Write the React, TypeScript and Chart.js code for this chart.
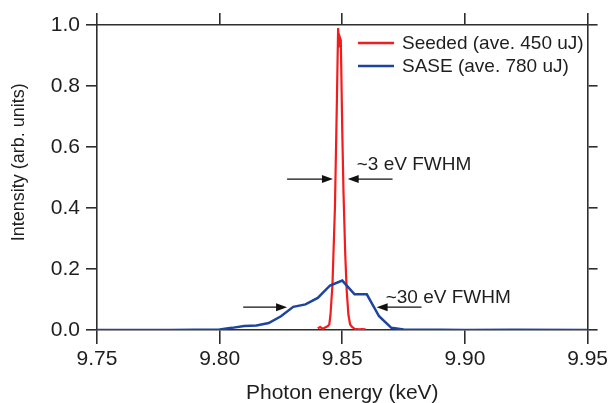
import React, { useEffect, useRef } from "react";
import { Chart, registerables } from "chart.js";

Chart.register(...registerables);

// Seeded spectrum (keV, normalized intensity)
const seededEnergy = [
  9.84, 9.841, 9.842, 9.843, 9.844, 9.8447, 9.8452, 9.846, 9.847, 9.8478, 9.8483,
  9.8487, 9.849, 9.8494, 9.85, 9.8505, 9.8512, 9.8518, 9.8525, 9.8532, 9.854,
  9.855, 9.856, 9.857, 9.858, 9.8595,
];
const seededIntensity = [
  0.006, 0.01, 0.004, 0.008, 0.012, 0.018, 0.05, 0.15, 0.4, 0.75, 0.99,
  0.93, 0.96, 0.95, 0.65, 0.45, 0.25, 0.13, 0.05, 0.018, 0.01,
  0.004, 0.003, 0.002, 0.003, 0.002,
];

// SASE spectrum
const saseEnergy = [
  9.75, 9.76, 9.77, 9.78, 9.79, 9.795, 9.8, 9.805, 9.81, 9.815, 9.82, 9.825,
  9.83, 9.835, 9.84, 9.845, 9.85, 9.855, 9.86, 9.865, 9.87, 9.875, 9.88, 9.89,
  9.9, 9.92, 9.95,
];
const saseIntensity = [
  0, 0, 0, 0, 0.001, 0.001, 0.002, 0.007, 0.013, 0.015, 0.023, 0.045,
  0.076, 0.084, 0.105, 0.146, 0.162, 0.117, 0.117, 0.045, 0.007, 0.002, 0.001, 0.001,
  0, 0.001, 0,
];

const seriesLabels = ["Seeded (ave. 450 uJ)", "SASE (ave. 780 uJ)"];
const seriesColors = ["#f21c1c", "#1c44a0"];

const xTitle = "Photon energy (keV)";
const yTitle = "Intensity (arb. units)";

// Annotations in data coordinates: [fromX, toX, y]
const arrows = [
  [9.8275, 9.8462, 0.495],
  [9.8705, 9.8522, 0.495],
  [9.8096, 9.8275, 0.075],
  [9.8823, 9.864, 0.075],
];
const notes = [
  { text: "~3 eV FWHM", x: 9.8559, y: 0.541 },
  { text: "~30 eV FWHM", x: 9.8677, y: 0.105 },
];

const FONT = '"Liberation Sans", Arial, Helvetica, sans-serif';
const AXIS = "#2e2e2e";
const TEXT = "#1e1e1e";

const overlay = {
  id: "overlay",
  afterDraw(chart: any) {
    const { ctx, chartArea, scales } = chart;
    const xs = scales.x;
    const ys = scales.y;
    ctx.save();
    // axis titles
    ctx.fillStyle = TEXT;
    ctx.font = `21px ${FONT}`;
    ctx.textAlign = "center";
    ctx.textBaseline = "middle";
    ctx.fillText(xTitle, (chartArea.left + chartArea.right) / 2, 393);
    ctx.save();
    ctx.font = `18px ${FONT}`;
    ctx.translate(19, chartArea.top + (chartArea.bottom - chartArea.top) * 0.45);
    ctx.rotate(-Math.PI / 2);
    ctx.fillText(yTitle, 0, 0);
    ctx.restore();

    // legend
    ctx.font = `19px ${FONT}`;
    ctx.textAlign = "left";
    chart.data.datasets.forEach((ds: any, i: number) => {
      const y = 43 + i * 23;
      ctx.strokeStyle = ds.borderColor;
      ctx.lineWidth = 2.5;
      ctx.beginPath();
      ctx.moveTo(358, y);
      ctx.lineTo(394, y);
      ctx.stroke();
      ctx.fillStyle = TEXT;
      ctx.fillText(ds.label, 402, y + 1);
    });

    // arrows
    ctx.strokeStyle = "#111";
    ctx.fillStyle = "#111";
    ctx.lineWidth = 1.3;
    arrows.forEach(([x0, x1, yv]) => {
      const px0 = xs.getPixelForValue(x0);
      const px1 = xs.getPixelForValue(x1);
      const py = ys.getPixelForValue(yv);
      const dir = Math.sign(px1 - px0);
      ctx.beginPath();
      ctx.moveTo(px0, py);
      ctx.lineTo(px1 - dir * 6, py);
      ctx.stroke();
      ctx.beginPath();
      ctx.moveTo(px1, py);
      ctx.lineTo(px1 - dir * 11, py - 4);
      ctx.lineTo(px1 - dir * 11, py + 4);
      ctx.closePath();
      ctx.fill();
    });

    // notes
    ctx.fillStyle = TEXT;
    ctx.font = `19px ${FONT}`;
    ctx.textAlign = "left";
    ctx.textBaseline = "middle";
    notes.forEach((n) => {
      ctx.fillText(n.text, xs.getPixelForValue(n.x), ys.getPixelForValue(n.y));
    });
    ctx.restore();
  },
};

export default function App() {
  const ref = useRef<HTMLCanvasElement | null>(null);

  useEffect(() => {
    if (!ref.current) return;
    const gridBase = {
      drawOnChartArea: false,
      drawTicks: true,
      color: AXIS,
      lineWidth: 1.6,
    };
    const chart = new Chart(ref.current, {
      type: "line",
      data: {
        datasets: [
          {
            label: seriesLabels[0],
            data: seededEnergy.map((x, i) => ({ x, y: seededIntensity[i] })),
            borderColor: seriesColors[0],
            backgroundColor: seriesColors[0],
            borderWidth: 2.2,
            pointRadius: 0,
            tension: 0,
            order: 2,
          },
          {
            label: seriesLabels[1],
            data: saseEnergy.map((x, i) => ({ x, y: saseIntensity[i] })),
            borderColor: seriesColors[1],
            backgroundColor: seriesColors[1],
            borderWidth: 2.5,
            pointRadius: 0,
            tension: 0,
            order: 1,
          },
        ],
      },
      options: {
        animation: false,
        responsive: true,
        maintainAspectRatio: false,
        layout: { padding: 0 },
        plugins: {
          legend: { display: false },
          tooltip: { enabled: false },
        },
        scales: {
          x: {
            type: "linear",
            position: "bottom",
            min: 9.75,
            max: 9.95,
            ticks: {
              stepSize: 0.05,
              callback: (v: any) => Number(v).toFixed(2),
              font: { family: FONT, size: 21 },
              color: TEXT,
              padding: 3,
              maxRotation: 0,
            },
            grid: { ...gridBase, tickLength: 14 },
            border: { color: AXIS, width: 1.6 },
            afterFit: (s: any) => {
              s.height = 73;
            },
          },
          x2: {
            type: "linear",
            position: "top",
            min: 9.75,
            max: 9.95,
            ticks: { stepSize: 0.05, display: false },
            grid: { ...gridBase, tickLength: 12 },
            border: { color: AXIS, width: 1.6 },
            afterFit: (s: any) => {
              s.height = 25;
            },
          },
          y: {
            type: "linear",
            position: "left",
            min: 0,
            max: 1,
            ticks: {
              stepSize: 0.2,
              callback: (v: any) => Number(v).toFixed(1),
              font: { family: FONT, size: 21 },
              color: TEXT,
              padding: 6,
            },
            grid: { ...gridBase, tickLength: 11 },
            border: { color: AXIS, width: 1.6 },
            afterFit: (s: any) => {
              s.width = 97;
            },
          },
          y2: {
            type: "linear",
            position: "right",
            min: 0,
            max: 1,
            ticks: { stepSize: 0.2, display: false },
            grid: { ...gridBase, tickLength: 10 },
            border: { color: AXIS, width: 1.6 },
            afterFit: (s: any) => {
              s.width = 21;
            },
          },
        },
      },
      plugins: [overlay],
    });
    return () => chart.destroy();
  }, []);

  return (
    <div
      style={{
        position: "fixed",
        left: 0,
        top: 0,
        width: 611,
        height: 403,
        background: "#ffffff",
      }}
    >
      <canvas ref={ref} />
    </div>
  );
}
